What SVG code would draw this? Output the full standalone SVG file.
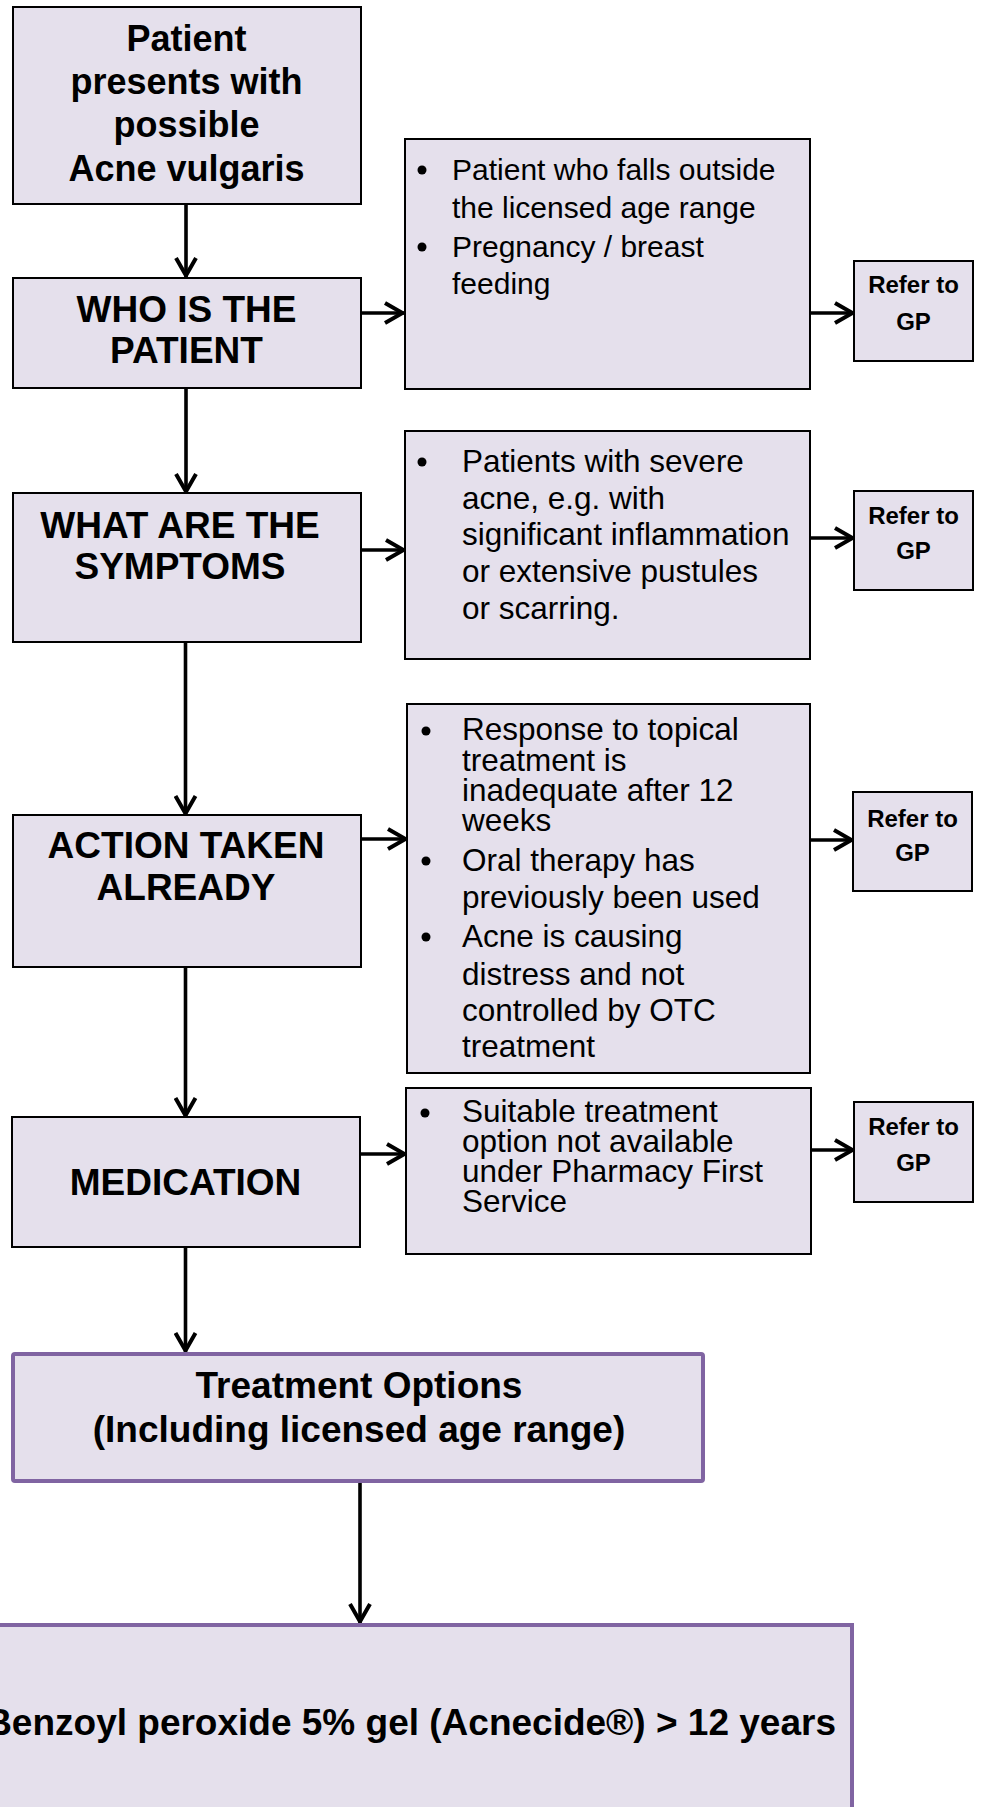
<svg xmlns="http://www.w3.org/2000/svg" width="982" height="1807" viewBox="0 0 982 1807">
<defs>
<style>
.box{fill:#E5E0EC;stroke:#000;stroke-width:2}
.pbox{fill:#E5E0EC;stroke:#8064A2;stroke-width:4}
.h{font-family:"Liberation Sans",Arial,sans-serif;font-weight:bold;font-size:37px;fill:#000;text-anchor:middle}
.r{font-family:"Liberation Sans",Arial,sans-serif;font-weight:bold;font-size:24px;fill:#000;text-anchor:middle}
.t{font-family:"Liberation Sans",Arial,sans-serif;font-size:31.5px;fill:#000}
.t3{font-family:"Liberation Sans",Arial,sans-serif;font-size:30px;fill:#000}
.b{fill:#000}
.c{fill:none;stroke:#000;stroke-width:3.6}
</style>
<marker id="ah" viewBox="-22 -12 24 24" refX="0" refY="0" markerWidth="24" markerHeight="24" markerUnits="userSpaceOnUse" orient="auto">
<path d="M-19,-10 L-1.5,0 L-19,10" fill="none" stroke="#000" stroke-width="4"/>
</marker>
</defs>
<rect width="982" height="1807" fill="#fff"/>

<g id="connectors">
<line class="c" x1="186" y1="204" x2="186" y2="277" marker-end="url(#ah)"/>
<line class="c" x1="361" y1="313" x2="404" y2="313" marker-end="url(#ah)"/>
<line class="c" x1="810" y1="313" x2="854" y2="313" marker-end="url(#ah)"/>
<line class="c" x1="186" y1="388" x2="186" y2="493" marker-end="url(#ah)"/>
<line class="c" x1="362" y1="550" x2="405" y2="550" marker-end="url(#ah)"/>
<line class="c" x1="810" y1="538" x2="854" y2="538" marker-end="url(#ah)"/>
<line class="c" x1="185.5" y1="642" x2="185.5" y2="815" marker-end="url(#ah)"/>
<line class="c" x1="358" y1="839" x2="407" y2="839" marker-end="url(#ah)"/>
<line class="c" x1="811" y1="840" x2="853" y2="840" marker-end="url(#ah)"/>
<line class="c" x1="185.5" y1="967" x2="185.5" y2="1117" marker-end="url(#ah)"/>
<line class="c" x1="360" y1="1154" x2="406" y2="1154" marker-end="url(#ah)"/>
<line class="c" x1="812" y1="1150" x2="854" y2="1150" marker-end="url(#ah)"/>
<line class="c" x1="185.5" y1="1247" x2="185.5" y2="1352" marker-end="url(#ah)"/>
<line class="c" x1="360" y1="1483" x2="360" y2="1623" marker-end="url(#ah)"/>
</g>

<g id="start">
<rect class="box" x="13" y="7" width="348" height="197"/>
<text class="h" x="186.5" y="51" style="font-size:36px">Patient</text>
<text class="h" x="186.5" y="94" style="font-size:36px">presents with</text>
<text class="h" x="186.5" y="137" style="font-size:36px">possible</text>
<text class="h" x="186.5" y="181" style="font-size:36px">Acne vulgaris</text>
</g>

<g id="who">
<rect class="box" x="13" y="278" width="348" height="110"/>
<text class="h" x="186.5" y="322">WHO IS THE</text>
<text class="h" x="186.5" y="363">PATIENT</text>
</g>

<g id="who-exclusions">
<rect class="box" x="405" y="139" width="405" height="250"/>
<circle class="b" cx="422" cy="170" r="4.5"/>
<circle class="b" cx="422" cy="247" r="4.5"/>
<text class="t3" x="452" y="180">Patient who falls outside</text>
<text class="t3" x="452" y="218">the licensed age range</text>
<text class="t3" x="452" y="257">Pregnancy / breast</text>
<text class="t3" x="452" y="294">feeding</text>
</g>

<g id="refer1">
<rect class="box" x="854" y="261" width="119" height="100"/>
<text class="r" x="913.5" y="293">Refer to</text>
<text class="r" x="913.5" y="330">GP</text>
</g>

<g id="symptoms">
<rect class="box" x="13" y="493" width="348" height="149"/>
<text class="h" x="180" y="538">WHAT ARE THE</text>
<text class="h" x="180" y="579">SYMPTOMS</text>
</g>

<g id="symptoms-exclusions">
<rect class="box" x="405" y="431" width="405" height="228"/>
<circle class="b" cx="422" cy="462" r="4.5"/>
<text class="t" x="462" y="472">Patients with severe</text>
<text class="t" x="462" y="509">acne, e.g. with</text>
<text class="t" x="462" y="545">significant inflammation</text>
<text class="t" x="462" y="582">or extensive pustules</text>
<text class="t" x="462" y="619">or scarring.</text>
</g>

<g id="refer2">
<rect class="box" x="854" y="491" width="119" height="99"/>
<text class="r" x="913.5" y="524">Refer to</text>
<text class="r" x="913.5" y="559">GP</text>
</g>

<g id="action">
<rect class="box" x="13" y="815" width="348" height="152"/>
<text class="h" x="186" y="858">ACTION TAKEN</text>
<text class="h" x="186" y="900">ALREADY</text>
</g>

<g id="action-exclusions">
<rect class="box" x="407" y="704" width="403" height="369"/>
<circle class="b" cx="426" cy="731" r="4.5"/>
<circle class="b" cx="426" cy="861" r="4.5"/>
<circle class="b" cx="426" cy="937" r="4.5"/>
<text class="t" x="462" y="740">Response to topical</text>
<text class="t" x="462" y="771">treatment is</text>
<text class="t" x="462" y="801">inadequate after 12</text>
<text class="t" x="462" y="831">weeks</text>
<text class="t" x="462" y="871">Oral therapy has</text>
<text class="t" x="462" y="908">previously been used</text>
<text class="t" x="462" y="947">Acne is causing</text>
<text class="t" x="462" y="985">distress and not</text>
<text class="t" x="462" y="1021">controlled by OTC</text>
<text class="t" x="462" y="1057">treatment</text>
</g>

<g id="refer3">
<rect class="box" x="853" y="792" width="119" height="99"/>
<text class="r" x="912.5" y="827">Refer to</text>
<text class="r" x="912.5" y="861">GP</text>
</g>

<g id="medication">
<rect class="box" x="12" y="1117" width="348" height="130"/>
<text class="h" x="185.5" y="1195">MEDICATION</text>
</g>

<g id="medication-exclusions">
<rect class="box" x="406" y="1088" width="405" height="166"/>
<circle class="b" cx="425" cy="1113" r="4.5"/>
<text class="t" x="462" y="1122">Suitable treatment</text>
<text class="t" x="462" y="1152">option not available</text>
<text class="t" x="462" y="1182">under Pharmacy First</text>
<text class="t" x="462" y="1212">Service</text>
</g>

<g id="refer4">
<rect class="box" x="854" y="1102" width="119" height="100"/>
<text class="r" x="913.5" y="1135">Refer to</text>
<text class="r" x="913.5" y="1171">GP</text>
</g>

<g id="treatment-options">
<rect class="pbox" x="13" y="1354" width="690" height="127" rx="2"/>
<text class="h" x="359" y="1398">Treatment Options</text>
<text class="h" x="359" y="1442">(Including licensed age range)</text>
</g>

<g id="benzoyl">
<rect class="pbox" x="-30" y="1625" width="882" height="250"/>
<text class="h" x="836" y="1735" style="text-anchor:end">Benzoyl peroxide 5% gel (Acnecide®) &gt; 12 years</text>
</g>
</svg>
